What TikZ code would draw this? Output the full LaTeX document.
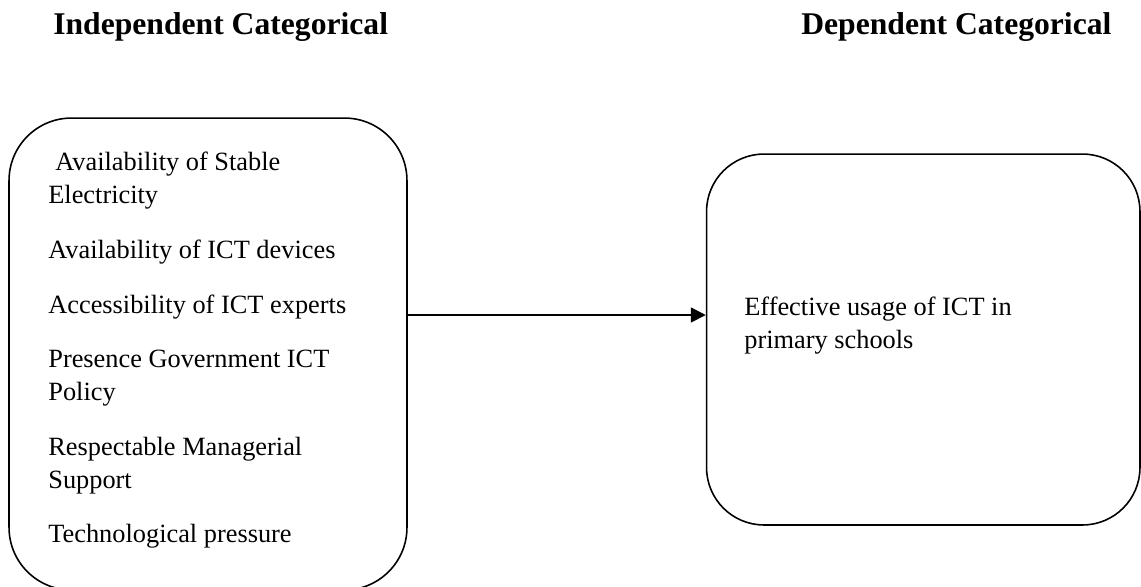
\documentclass[tikz,border=0pt]{standalone}
\usepackage{fontspec}
\setmainfont{Liberation Serif}
\usetikzlibrary{arrows.meta}

\begin{document}
\begin{tikzpicture}[x=0.02cm, y=-0.02cm,
  catbox/.style={draw, line width=0.9pt, inner sep=0},
  item/.style={anchor=base west, inner sep=0, align=left, font=\fontsize{15}{18.3}\selectfont},
  head/.style={anchor=base west, inner sep=0, font=\fontsize{18}{21}\selectfont\bfseries}]
\clip (0,0) rectangle (1141,586);
% headings
\node [head] (hindep) at (53,34) {Independent Categorical};
\node [head] (hdep) at (801,34) {Dependent Categorical};
% the two boxes
\node [catbox, rounded corners=1.25cm, minimum width=7.96cm, minimum height=9.44cm] (indep) at (208,354) {};
\node [catbox, rounded corners=1.15cm, minimum width=8.67cm, minimum height=7.42cm] (dep) at (923.25,339.5) {};
% factors (base = last line)
\node [item] (elec) at (48,203) {\hspace{4pt}Availability of Stable\\Electricity};
\node [item] (dev) at (48,258) {Availability of ICT devices};
\node [item] (expert) at (48,313) {Accessibility of ICT experts};
\node [item] (policy) at (48,400) {Presence Government ICT\\Policy};
\node [item] (support) at (48,488) {Respectable Managerial\\Support};
\node [item] (press) at (48,542) {Technological pressure};
\node [item] (usage) at (744,348) {Effective usage of ICT in\\primary schools};
% link
\coordinate (link) at (0,315);
\draw [line width=1pt, -{Triangle[length=0.3cm, width=0.3cm]}] (indep.east |- link) -- (dep.west |- link);
\end{tikzpicture}
\end{document}
